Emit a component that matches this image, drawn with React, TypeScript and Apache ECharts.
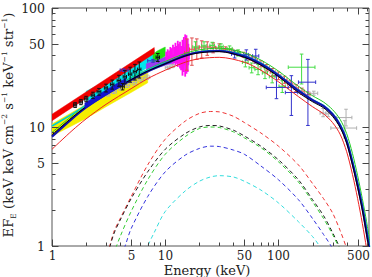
import React, { useEffect, useRef } from 'react';
import * as echarts from 'echarts';

// ---------- axes ----------
const xTicks = [1, 2, 3, 4, 5, 6, 7, 8, 9, 10, 20, 30, 40, 50, 60, 70, 80, 90, 100, 200, 300, 400, 500, 600];
const yTicks = [1, 2, 3, 4, 5, 6, 7, 8, 9, 10, 20, 30, 40, 50, 60, 70, 80, 90, 100];
const xLabelVals = [1, 5, 10, 50, 100, 500];
const yLabelVals = [1, 5, 10, 50, 100];

// ---------- model curves (solid) ----------
const modelE = [1, 1.5, 2, 3, 5, 7, 10, 15, 20, 30, 50, 70, 100, 150, 200, 250, 300, 350, 400, 450, 500, 550, 600, 650];
const modelBlack = [8.6, 12.0, 14.8, 19.0, 25.0, 29.5, 34.0, 39.5, 42.0, 43.0, 38.5, 33.0, 26.5, 19.5, 16.3, 14.5, 12.3, 9.9, 7.3, 4.8, 3.1, 2.0, 1.25, 0.78];
const modelBlue = [8.3, 11.7, 14.6, 18.8, 24.8, 29.3, 34.0, 39.8, 42.5, 43.5, 39.2, 33.8, 27.2, 20.2, 16.8, 15.0, 12.8, 10.3, 7.6, 5.0, 3.25, 2.1, 1.3, 0.82];
const modelCyan = [10.2, 12.8, 15.3, 19.5, 25.5, 30.0, 34.5, 40.0, 43.0, 44.0, 40.0, 34.5, 27.5, 20.5, 17.0, 15.2, 13.0, 10.6, 7.9, 5.2, 3.4, 2.2, 1.4, 0.88];
const modelGreen = [9.0, 12.4, 15.3, 19.8, 26.0, 30.5, 35.5, 41.5, 44.5, 46.0, 42.0, 36.5, 29.5, 22.0, 18.3, 16.2, 14.0, 11.6, 8.8, 6.0, 3.9, 2.5, 1.6, 1.0];
const modelRed = [6.5, 9.3, 11.7, 15.5, 21.0, 25.5, 30.0, 35.0, 37.5, 38.5, 35.0, 30.0, 24.0, 18.0, 14.8, 12.9, 10.9, 8.7, 6.2, 4.0, 2.5, 1.55, 0.95, 0.58];

// ---------- Compton-thick components (dashed) ----------
const dashRedE = [3, 3.5, 4, 5, 7, 10, 15, 20, 25, 30, 40, 50, 70, 100, 150, 200, 250, 300, 350, 400, 450];
const dashRed = [0.75, 1.3, 1.7, 2.6, 4.8, 7.9, 11.2, 13.0, 13.5, 13.4, 12.3, 10.9, 8.9, 6.9, 4.8, 3.35, 2.5, 1.9, 1.35, 0.95, 0.62];
const dashBlackE = [3, 3.5, 4, 5, 7, 10, 15, 20, 25, 30, 40, 50, 70, 100, 150, 200, 250, 300, 350, 400];
const dashBlack = [0.75, 1.25, 1.65, 2.5, 4.2, 6.5, 8.8, 10.0, 10.3, 10.2, 9.4, 8.4, 6.9, 5.3, 3.6, 2.45, 1.8, 1.3, 0.95, 0.65];
const dashGreenE = [3, 3.5, 4, 5, 7, 10, 15, 20, 25, 30, 40, 50, 70, 100, 150, 200, 250, 300, 350, 400];
const dashGreen = [0.5, 0.85, 1.2, 1.95, 3.6, 5.9, 8.3, 9.7, 10.0, 9.9, 9.1, 8.1, 6.7, 5.1, 3.45, 2.35, 1.7, 1.25, 0.92, 0.62];
const dashBlueE = [3.5, 4, 4.5, 5, 7, 10, 15, 20, 25, 30, 40, 50, 70, 100, 150, 200, 250, 300, 350];
const dashBlue = [0.5, 0.75, 1.05, 1.4, 2.6, 4.2, 5.8, 6.6, 6.9, 6.85, 6.4, 5.9, 4.7, 3.6, 2.45, 1.7, 1.25, 0.95, 0.65];
const dashCyanE = [6, 7, 8, 10, 15, 20, 25, 30, 40, 50, 70, 100, 150, 200, 230, 260];
const dashCyan = [0.7, 1.0, 1.3, 1.95, 2.9, 3.5, 3.8, 3.9, 3.8, 3.5, 2.95, 2.3, 1.6, 1.2, 1.0, 0.8];

// ---------- bands (energy, lower, upper) ----------
const redBandE = [1, 8];
const redBandLo = [11.3, 41.5];
const redBandHi = [12.8, 46.5];
const cyanBandE = [2, 3.2, 5, 6.6, 8];
const cyanBandLo = [16.5, 19.5, 25.5, 30.6, 35];
const cyanBandHi = [20, 25, 32, 40, 45];
const yellowBandE = [1, 2, 3, 5, 7];
const yellowBandLo = [8.4, 11.8, 14.8, 19.5, 23.5];
const yellowBandHi = [10.6, 15.5, 19.6, 25.5, 30];
const greenBandE = [7.8, 8.5, 9.3, 10];
const greenBandLo = [35, 36.5, 38, 39.5];
const greenBandHi = [41, 43.5, 45.5, 47];
const violetBandE = [6.8, 8.5, 10, 12, 14, 16];
const violetBandLo = [29, 31.5, 33, 34.5, 35.5, 36.5];
const violetBandHi = [34, 37, 39, 40.5, 42, 43];
const blueBandE = [1.95, 3, 4.5];
const blueBandLo = [14.3, 18.5, 23.3];
const blueBandHi = [15.9, 20.5, 25.8];

// magenta spiky spectrum: energy, low, high
const magE = [10.2, 10.5, 10.8, 11.1, 11.4, 11.7, 12.0, 12.3, 12.6, 12.9, 13.2, 13.5, 13.8, 14.0, 14.2, 14.4, 14.6, 14.8, 15.0, 15.2, 15.4, 15.6, 15.8, 16.0, 16.2];
const magLo = [36, 35, 36.5, 35, 36, 34, 35.5, 33, 34, 32, 34, 31, 30, 33, 27, 31, 29, 33, 26.5, 31, 28, 34, 29, 33, 37];
const magHi = [43, 45, 44, 47, 46, 49, 47, 51, 48, 53, 50, 52, 48, 44, 54, 50, 57, 47, 60, 52, 59, 48, 55, 50, 46];

// ---------- data points: [E, Elo, Ehi, F, Flo, Fhi] ----------
const blackPts = [
  [1.6, 1.55, 1.65, 15.3, 14.6, 16.0], [1.8, 1.74, 1.86, 16.2, 15.4, 17.0], [2.0, 1.93, 2.07, 17.2, 16.3, 18.1],
  [2.3, 2.22, 2.38, 18.5, 17.4, 19.6], [2.6, 2.5, 2.7, 19.8, 18.5, 21.1], [3.0, 2.9, 3.1, 21.3, 19.7, 22.9],
  [3.4, 3.28, 3.52, 22.8, 20.8, 24.8], [3.9, 3.76, 4.04, 24.6, 22.0, 27.2], [4.4, 4.25, 4.55, 26.4, 23.0, 29.8],
  [4.9, 4.73, 5.07, 27.8, 23.8, 31.8], [5.4, 5.22, 5.58, 29.2, 24.8, 33.6], [5.9, 5.7, 6.1, 30.5, 25.8, 35.2],
  [4.2, 4.05, 4.35, 21.8, 20.5, 23.2], [8.6, 8.3, 8.9, 38.5, 35.5, 41.5],
];
const greyPts = [
  [3.1, 2.95, 3.25, 18.8, 18.2, 19.4], [3.5, 3.3, 3.7, 19.8, 19.1, 20.5], [4.0, 3.8, 4.2, 21.2, 20.4, 22.0],
  [4.6, 4.35, 4.85, 22.4, 21.5, 23.3], [5.3, 5.0, 5.6, 23.6, 22.6, 24.6], [6.1, 5.75, 6.45, 25.0, 24.0, 26.0],
  [6.9, 6.5, 7.3, 26.2, 25.1, 27.3], [10.5, 10.0, 11.0, 31.5, 30.5, 32.5], [11.5, 11.0, 12.0, 32.5, 31.5, 33.5],
  [205, 190, 222, 19.2, 18.5, 20.0], [248, 233, 262, 13.1, 12.2, 14.3], [275, 262, 295, 12.9, 12.2, 13.6],
  [395, 325, 445, 12.0, 10.2, 14.1], [385, 290, 490, 9.8, 8.1, 11.3],
];
const redPts = [
  [15.5, 14.8, 16.2, 42, 30, 55], [17.2, 16.4, 18.0, 45, 33, 56], [19, 18.2, 19.8, 46, 37, 55],
  [21, 20, 22, 47, 38, 53], [23.5, 22.5, 24.5, 47, 40, 52], [26.5, 25.2, 27.8, 46.5, 42, 51],
  [30, 28.5, 31.5, 46, 43, 50], [34, 32.3, 35.7, 45, 42.8, 47.2], [38.5, 36.6, 40.4, 43.5, 41.5, 45.5],
  [43.5, 41.3, 45.7, 42, 40, 44], [49, 46.5, 51.5, 40.5, 38.5, 42.5], [55, 52.3, 57.7, 38.5, 36.5, 40.5],
  [62, 59, 65, 36.5, 34.5, 38.5], [70, 66.5, 73.5, 34, 32, 36], [79, 75, 83, 31.5, 29.5, 33.5],
  [89, 84.5, 93.5, 29, 27, 31], [100, 95, 105, 27, 25, 29], [113, 107, 119, 25, 23.3, 26.7],
  [127, 120, 134, 23, 21.5, 24.5], [143, 136, 150, 21.3, 19.9, 22.7], [161, 153, 169, 20, 18.8, 21.2],
  [181, 172, 190, 18.7, 17.7, 19.7],
];
const greenPts = [
  [18.5, 17.5, 19.5, 47, 42, 52], [22, 21, 23, 48, 44, 52], [26, 24.8, 27.2, 48.5, 45.5, 51.5],
  [31, 29.5, 32.5, 47.5, 45, 50], [37, 35, 39, 45.5, 43, 48], [44, 42, 46, 42, 39.5, 44.5],
  [51, 48, 54, 35, 32, 38], [58, 55, 61, 31.5, 28.5, 34.5], [66, 62, 70, 30.5, 27.5, 33.5],
  [76, 72, 80, 28.5, 25.5, 31.5], [88, 83, 93, 26.5, 23.5, 29.5], [108, 101, 115, 22, 19.5, 24.5],
  [160, 122, 210, 31.8, 23, 41],
];
const bluePts = [
  [4.3, 4.0, 4.7, 30, 29.3, 30.7], [7.8, 7.0, 8.7, 36, 35, 37],
  [41, 38.5, 44, 41, 38, 44], [52, 49.5, 54.5, 40.5, 36.5, 44.5], [63, 59, 67, 39.5, 34.5, 45],
  [96, 78, 122, 21.5, 17.3, 27], [130, 115, 148, 19.5, 12.5, 27], [182, 150, 213, 23.8, 10.3, 37],
];

const SERIF = '"DejaVu Serif", "Liberation Serif", serif';

function lineSeries(E: number[], F: number[], color: string, width: number, z: number, dashed = false) {
  return {
    type: 'line',
    data: E.map((e, i) => [e, F[i]]),
    symbol: 'none',
    smooth: 0.3,
    clip: true,
    silent: true,
    z,
    lineStyle: { color, width, type: dashed ? [4, 3] : 'solid' },
  };
}

function bandSeries(E: number[], lo: number[], hi: number[], color: string, z: number) {
  return {
    type: 'custom',
    clip: true,
    silent: true,
    z,
    data: [[E[0], lo[0]]],
    encode: { x: 0, y: 1 },
    renderItem: (_p: any, api: any) => {
      const pts: number[][] = [];
      for (let i = 0; i < E.length; i++) pts.push(api.coord([E[i], hi[i]]));
      for (let i = E.length - 1; i >= 0; i--) pts.push(api.coord([E[i], lo[i]]));
      return { type: 'polygon', shape: { points: pts }, style: { fill: color, stroke: color, lineWidth: 0.5 } };
    },
  };
}

function spikeSeries(E: number[], lo: number[], hi: number[], color: string, z: number) {
  return {
    type: 'custom',
    clip: true,
    silent: true,
    z,
    data: E.map((e, i) => [e, lo[i], hi[i]]),
    encode: { x: 0, y: [1, 2] },
    renderItem: (_p: any, api: any) => {
      const a = api.coord([api.value(0), api.value(1)]);
      const b = api.coord([api.value(0), api.value(2)]);
      return { type: 'line', shape: { x1: a[0], y1: a[1], x2: b[0], y2: b[1] }, style: { stroke: color, lineWidth: 1.8 } };
    },
  };
}

function errSeries(rows: number[][], color: string, z: number, w = 1) {
  return {
    type: 'custom',
    clip: true,
    silent: true,
    z,
    data: rows,
    encode: { x: [0, 1, 2], y: [3, 4, 5] },
    renderItem: (_p: any, api: any) => {
      const E = api.value(0), El = api.value(1), Eh = api.value(2);
      const F = api.value(3), Fl = api.value(4), Fh = api.value(5);
      const c = api.coord([E, F]);
      const l = api.coord([El, F]);
      const r = api.coord([Eh, F]);
      const b = api.coord([E, Fl]);
      const t = api.coord([E, Fh]);
      const cap = 1.8;
      const st = { stroke: color, lineWidth: w };
      const ln = (x1: number, y1: number, x2: number, y2: number) => ({ type: 'line', shape: { x1, y1, x2, y2 }, style: st });
      return {
        type: 'group',
        children: [
          ln(l[0], c[1], r[0], c[1]),
          ln(c[0], b[1], c[0], t[1]),
          ln(l[0], c[1] - cap, l[0], c[1] + cap),
          ln(r[0], c[1] - cap, r[0], c[1] + cap),
          ln(c[0] - cap, b[1], c[0] + cap, b[1]),
          ln(c[0] - cap, t[1], c[0] + cap, t[1]),
        ],
      };
    },
  };
}

const tickColor = '#444';

const xTickSeries = {
  type: 'custom',
  clip: false,
  silent: true,
  z: 20,
  data: xTicks.map((v) => [v, 1]),
  encode: { x: 0, y: 1 },
  renderItem: (p: any, api: any) => {
    const cs = p.coordSys;
    const v = api.value(0);
    const px = Math.round(api.coord([v, 1])[0]) + 0.5;
    const major = xLabelVals.indexOf(v) >= 0;
    const L = major ? 6.5 : 3.5;
    const bottom = cs.y + cs.height;
    const top = cs.y;
    const st = { stroke: tickColor, lineWidth: 1 };
    const children: any[] = [
      { type: 'line', shape: { x1: px, y1: bottom, x2: px, y2: bottom - L }, style: st },
      { type: 'line', shape: { x1: px, y1: top, x2: px, y2: top + L }, style: st },
    ];
    if (major) {
      children.push({
        type: 'text',
        x: px,
        y: bottom + 9.5,
        style: { text: String(v), fill: '#222', fontSize: 12, fontFamily: SERIF, align: 'center', verticalAlign: 'middle' },
      });
    }
    return { type: 'group', children };
  },
};

const yTickSeries = {
  type: 'custom',
  clip: false,
  silent: true,
  z: 20,
  data: yTicks.map((v) => [1, v]),
  encode: { x: 0, y: 1 },
  renderItem: (p: any, api: any) => {
    const cs = p.coordSys;
    const v = api.value(1);
    const py = Math.round(api.coord([1, v])[1]) + 0.5;
    const major = yLabelVals.indexOf(v) >= 0;
    const L = major ? 6.5 : 3.5;
    const left = cs.x;
    const right = cs.x + cs.width;
    const st = { stroke: tickColor, lineWidth: 1 };
    const children: any[] = [
      { type: 'line', shape: { x1: left, y1: py, x2: left + L, y2: py }, style: st },
      { type: 'line', shape: { x1: right, y1: py, x2: right - L, y2: py }, style: st },
    ];
    if (major) {
      children.push({
        type: 'text',
        x: left - 7,
        y: py,
        style: { text: String(v), fill: '#222', fontSize: 12.5, fontFamily: SERIF, align: 'right', verticalAlign: 'middle' },
      });
    }
    return { type: 'group', children };
  },
};

const option: any = {
  animation: false,
  backgroundColor: '#ffffff',
  grid: { left: 52, top: 8, width: 317, height: 238, show: true, borderColor: '#555', borderWidth: 1, backgroundColor: 'transparent' },
  xAxis: {
    type: 'log', logBase: 10, min: 1, max: 630,
    axisLine: { show: false }, axisTick: { show: false }, axisLabel: { show: false }, splitLine: { show: false },
  },
  yAxis: {
    type: 'log', logBase: 10, min: 1, max: 100,
    axisLine: { show: false }, axisTick: { show: false }, axisLabel: { show: false }, splitLine: { show: false },
  },
  graphic: [
    {
      type: 'text',
      x: 8.5,
      y: 125,
      rotation: Math.PI / 2,
      style: {
        text: '{b|EF}{sub|E}{b| (keV keV cm}{sup|−2}{b| s}{sup|−1}{b| keV}{sup|−1}{b| str}{sup|−1}{b|)}',
        align: 'center',
        verticalAlign: 'middle',
        fill: '#222',
        rich: {
          b: { fontSize: 13.2, fontFamily: SERIF, lineHeight: 17, fill: '#222' },
          sup: { fontSize: 7.5, fontFamily: SERIF, lineHeight: 9, verticalAlign: 'top', fill: '#222' },
          sub: { fontSize: 7.5, fontFamily: SERIF, lineHeight: 9, verticalAlign: 'bottom', fill: '#222' },
        },
      },
    },
    {
      type: 'text',
      x: 207,
      y: 270,
      style: { text: 'Energy (keV)', fontSize: 13, fontFamily: SERIF, fill: '#222', align: 'center', verticalAlign: 'middle' },
    },
  ],
  series: [
    bandSeries(yellowBandE, yellowBandLo, yellowBandHi, '#f5ee00', 2),
    bandSeries(cyanBandE, cyanBandLo, cyanBandHi, '#00e8ec', 3),
    bandSeries(violetBandE, violetBandLo, violetBandHi, '#9a3cf0', 3),
    bandSeries(greenBandE, greenBandLo, greenBandHi, '#22e010', 3),
    spikeSeries(magE, magLo, magHi, '#ff10f0', 4),
    bandSeries(redBandE, redBandLo, redBandHi, '#f00000', 5),
    errSeries(greyPts, '#b0b0b0', 6),
    errSeries(redPts, '#e05050', 6),
    errSeries(greenPts, '#44dd44', 6),
    errSeries(bluePts, '#3333cc', 6),
    lineSeries(dashRedE, dashRed, '#ee3333', 1, 7, true),
    lineSeries(dashBlackE, dashBlack, '#222222', 1, 7, true),
    lineSeries(dashGreenE, dashGreen, '#33cc33', 1, 7, true),
    lineSeries(dashBlueE, dashBlue, '#3333dd', 1, 7, true),
    lineSeries(dashCyanE, dashCyan, '#33dddd', 1, 7, true),
    lineSeries(modelE, modelRed, '#ee2222', 1, 8),
    lineSeries(modelE, modelGreen, '#22cc22', 1, 8),
    lineSeries(modelE, modelCyan, '#00cccc', 1.5, 8),
    lineSeries(modelE, modelBlue, '#1010b0', 2.2, 8),
    lineSeries(modelE, modelBlack, '#000000', 1, 8),
    bandSeries(blueBandE, blueBandLo, blueBandHi, '#1414d0', 9),
    errSeries(blackPts, '#111111', 10),
    xTickSeries,
    yTickSeries,
  ],
};

export default function App() {
  const ref = useRef<HTMLDivElement>(null);
  useEffect(() => {
    const chart = echarts.init(ref.current!, null, { renderer: 'svg' });
    chart.setOption(option);
    return () => chart.dispose();
  }, []);
  return <div ref={ref} style={{ position: 'absolute', left: 0, top: 0, width: 372, height: 277 }} />;
}
